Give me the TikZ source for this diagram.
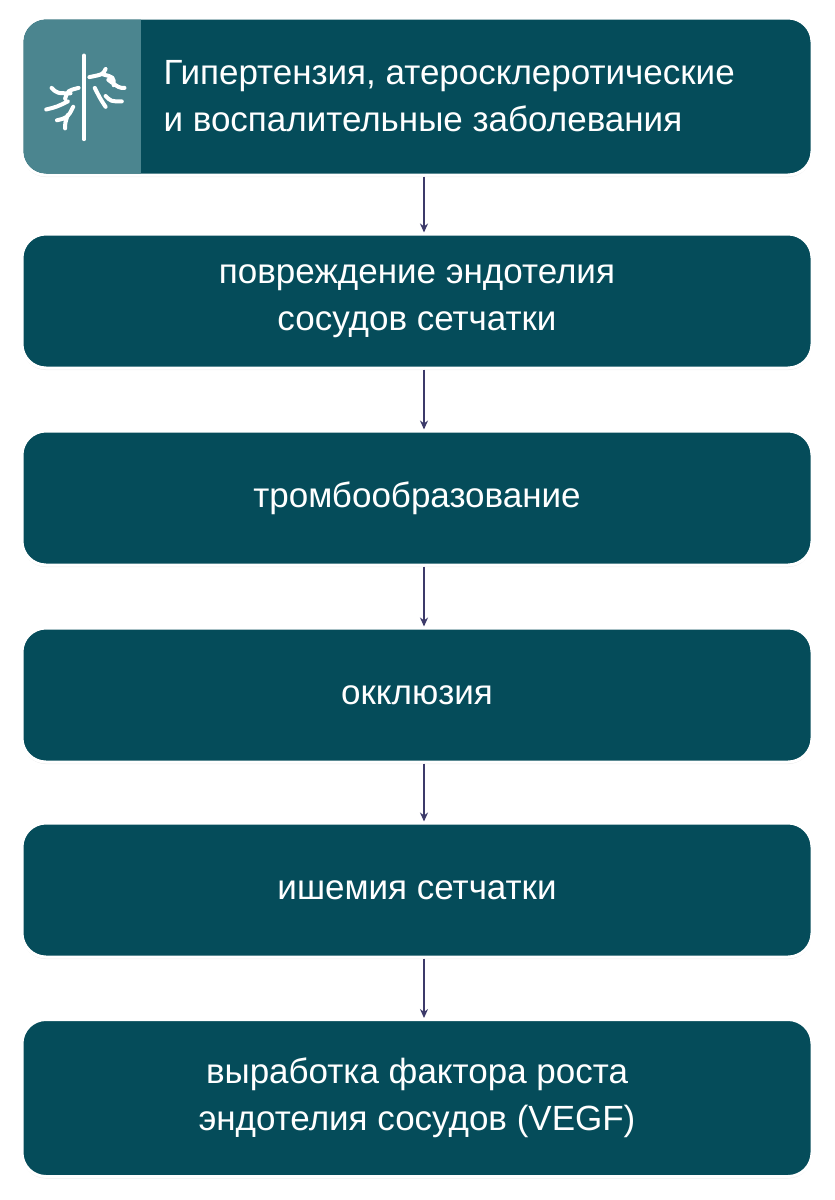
\documentclass[tikz,border=0pt]{standalone}
\usepackage{fontspec}
\setmainfont{Liberation Sans}
\definecolor{boxteal}{HTML}{054C5A}
\definecolor{iconteal}{HTML}{4B858F}
\definecolor{arrowpurple}{HTML}{3C3A6A}
\tikzset{
  stagebox/.style={draw=white,line width=3pt,fill=boxteal,rounded corners=24pt,
    minimum width=790pt,text=white,align=center,font=\fontsize{35}{47}\selectfont,
    drop shadow={shadow xshift=0pt,shadow yshift=-2pt,opacity=.15}},
  flowarrow/.style={-{Stealth[length=9pt,width=8pt]},arrowpurple,line width=1.5pt},
  vessel/.style={white,line width=4pt,line cap=round}
}
\usetikzlibrary{arrows.meta,shadows}
\begin{document}
\begin{tikzpicture}[x=1pt,y=-1pt]
\useasboundingbox (0,0) rectangle (835,1200);

%stage boxes
\node[stagebox,minimum height=157pt] (cause) at (417,96.5) {};
\node[stagebox,minimum height=134pt] (damage) at (417,301) {повреждение эндотелия\\сосудов сетчатки};
\node[stagebox,minimum height=134pt] (thromb) at (417,498) {тромбообразование};
\node[stagebox,minimum height=134pt] (occl) at (417,695) {окклюзия};
\node[stagebox,minimum height=134pt] (isch) at (417,890) {ишемия сетчатки};
\node[stagebox,minimum height=157pt] (vegf) at (417,1098) {выработка фактора роста\\эндотелия сосудов (VEGF)};

%icon panel
\begin{scope}
\clip[rounded corners=22.5pt] (23.5,19.5) rectangle (810.5,173.5);
\fill[iconteal] (22,18) rectangle (141,175);
\end{scope}
\node[text=white,align=left,font=\fontsize{35}{47}\selectfont,anchor=west] (causetext) at (160,96.5)
  {Гипертензия, атеросклеротические\\и воспалительные заболевания};

%draw vessel icon
\begin{scope}[shift={(84,96)},scale=1.35,shift={(-84,-96)}]
\draw[vessel] (84,66)--(84,128);
\draw[vessel] (88,82) .. controls (98,80) .. (100,76) (98,80) .. controls (106,82) .. (106,88)
  (102,84) .. controls (110,90) .. (114,90) (92,90) .. controls (96,98) .. (100,104)
  (100,96) .. controls (104,100) .. (112,100);
\draw[vessel] (80,90) .. controls (72,92) .. (70,98) (74,94) .. controls (64,94) .. (60,90)
  (72,100) .. controls (64,104) .. (56,106) (76,104) .. controls (72,112) .. (64,114)
  (72,110) .. controls (70,116) .. (70,120);
\end{scope}

%draw connectors
\foreach \a/\b in {cause/damage,damage/thromb,thromb/occl,occl/isch,isch/vegf}
  {
  \draw[flowarrow] (\a.south)++(7,0) -- ([xshift=7pt]\b.north);
  }
\end{tikzpicture}
\end{document}
